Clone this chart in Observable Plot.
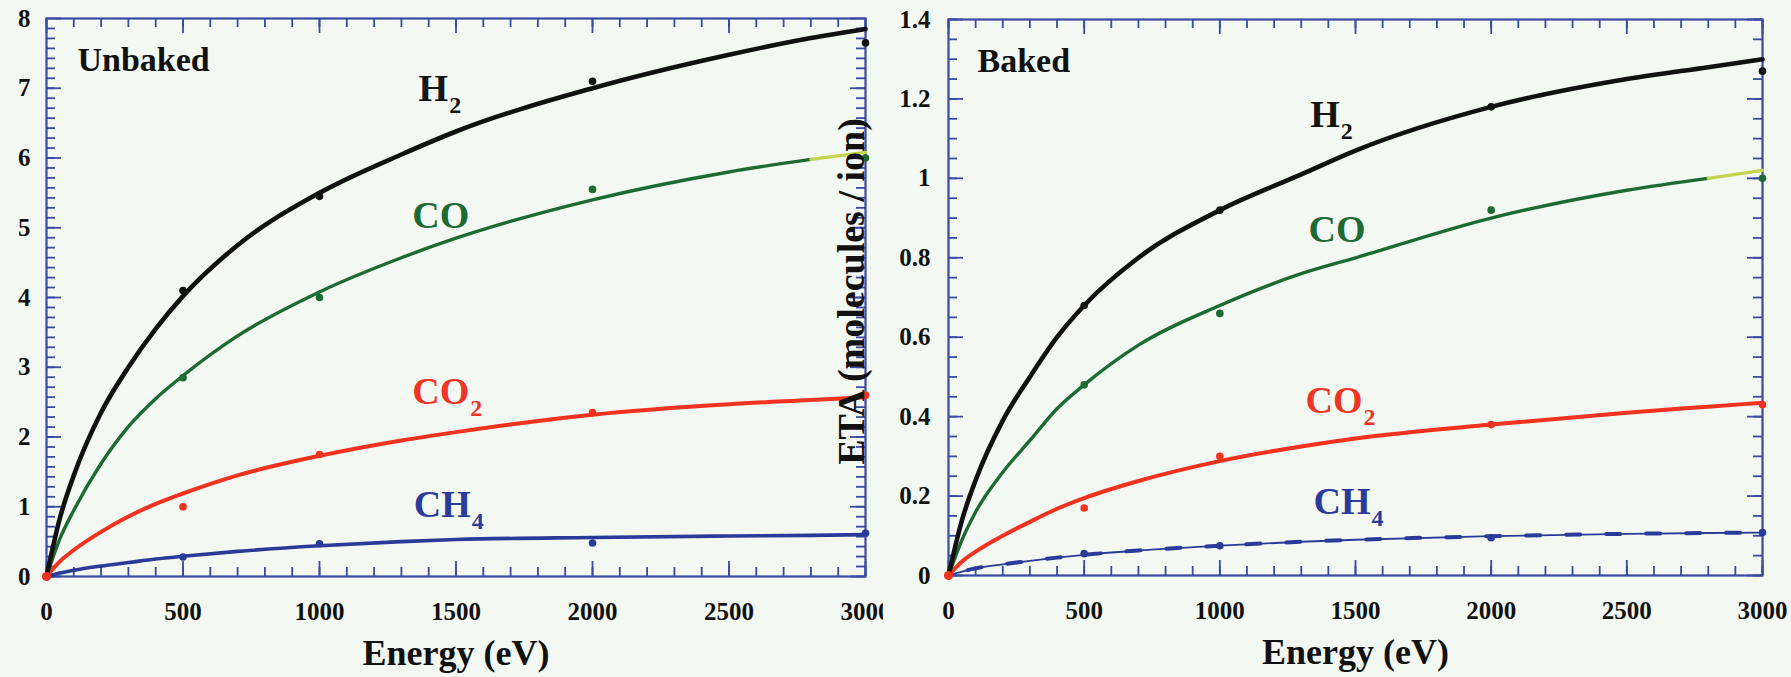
<!DOCTYPE html>
<html><head><meta charset="utf-8">
<script src="https://cdn.jsdelivr.net/npm/d3@7"></script>
<script src="https://cdn.jsdelivr.net/npm/@observablehq/plot@0.6"></script>
<style>
body{margin:0;background:#f3f8f2;}
#wrap{position:relative;width:1791px;height:677px;overflow:hidden;background:#f3f8f2;}
#left,#right{position:absolute;top:0;}
#left{left:0;} #right{left:825px;}
</style></head><body>
<div id="wrap"><div id="left"></div><div id="right"></div></div>
<script>
// ---------- data ----------
const energyGrid = [0, 50, 100, 200, 300, 400, 500, 700, 1000, 1300, 1500, 2000, 2500, 2800, 3000];
const pointEnergy = [0, 500, 1000, 2000, 3000];
const gases = ["H2", "CO", "CO2", "CH4"];
const gasMain = ["H", "CO", "CO", "CH"];
const gasSub = ["2", "", "2", "4"];

// Unbaked (fitted curves + measured points)
const unbakedH2  = [0, 0.85, 1.45, 2.35, 3.0, 3.55, 4.02, 4.75, 5.5, 6.05, 6.38, 7.0, 7.48, 7.72, 7.85];
const unbakedCO  = [0, 0.55, 0.95, 1.62, 2.15, 2.55, 2.88, 3.45, 4.08, 4.57, 4.85, 5.4, 5.8, 5.98, 6.08];
const unbakedCO2 = [0, 0.22, 0.38, 0.64, 0.86, 1.04, 1.19, 1.45, 1.73, 1.95, 2.07, 2.32, 2.47, 2.53, 2.57];
const unbakedCH4 = [0, 0.05, 0.09, 0.15, 0.2, 0.25, 0.29, 0.36, 0.44, 0.5, 0.53, 0.56, 0.58, 0.59, 0.6];
const unbakedPtsH2  = [0, 4.1, 5.45, 7.1, 7.65];
const unbakedPtsCO  = [0, 2.85, 4.0, 5.55, 6.0];
const unbakedPtsCO2 = [0, 1.0, 1.75, 2.35, 2.6];
const unbakedPtsCH4 = [0, 0.28, 0.47, 0.48, 0.62];

// Baked
const bakedH2  = [0, 0.14, 0.24, 0.39, 0.5, 0.6, 0.68, 0.8, 0.92, 1.01, 1.07, 1.18, 1.25, 1.28, 1.30];
const bakedCO  = [0, 0.09, 0.16, 0.26, 0.34, 0.42, 0.48, 0.58, 0.68, 0.76, 0.8, 0.9, 0.97, 1.0, 1.02];
const bakedCO2 = [0, 0.035, 0.06, 0.1, 0.135, 0.168, 0.195, 0.238, 0.288, 0.325, 0.345, 0.38, 0.41, 0.425, 0.435];
const bakedCH4 = [0, 0.01, 0.018, 0.028, 0.037, 0.045, 0.052, 0.063, 0.075, 0.085, 0.09, 0.099, 0.105, 0.107, 0.108];
const bakedPtsH2  = [0, 0.68, 0.92, 1.18, 1.27];
const bakedPtsCO  = [0, 0.48, 0.66, 0.92, 1.0];
const bakedPtsCO2 = [0, 0.17, 0.3, 0.38, 0.43];
const bakedPtsCH4 = [0, 0.055, 0.075, 0.095, 0.108];

// label anchors (energy, value)
const unbakedLabelE = [1363, 1340, 1340, 1345];
const unbakedLabelV = [6.82, 5.0, 2.47, 0.86];
const bakedLabelE = [1333, 1327, 1316, 1345];
const bakedLabelV = [1.13, 0.84, 0.41, 0.156];

// ticks
const xMajorTicks = [0, 500, 1000, 1500, 2000, 2500, 3000];
const xMinorTicks = d3.range(0, 3001, 100);
const unbakedYMajor = [0, 1, 2, 3, 4, 5, 6, 7, 8];
const unbakedYMinor = d3.range(0, 56).map(i => i / 7);
const bakedYMajor = [0, 0.2, 0.4, 0.6, 0.8, 1, 1.2, 1.4];
const bakedYMinor = d3.range(0, 29).map(i => i * 0.05);

// ---------- style ----------
const FONT = "'Liberation Serif', 'Times New Roman', serif";
const frameBlue = "#3a4aa2";
const lineColors = ["#111111", "#1d6a33", "#f0321f", "#2a3a98"];
const lineWidths = [4.6, 3.4, 4.0, 3.6];
const textColors = ["#151515", "#1d6a33", "#ee3526", "#2b3b9a"];
const coEndColor = "#c3d44c";

const ctx = document.createElement("canvas").getContext("2d");
function textWidth(t, size) { ctx.font = `bold ${size}px ${FONT}`; return ctx.measureText(t).width; }
const rowsOf = (vals, es) => es.map((E, i) => ({E, v: vals[i]}));

function buildPanel(o) {
  const iw = o.width - o.marginLeft - o.marginRight;
  const ih = o.height - o.marginTop - o.marginBottom;
  const tk = {stroke: frameBlue, strokeWidth: 1.8};
  const marks = [];
  // inward ticks on all four sides
  marks.push(Plot.tickX(xMinorTicks, {x: d => d, insetTop: ih - 9, ...tk}));
  marks.push(Plot.tickX(xMajorTicks, {x: d => d, insetTop: ih - 15, ...tk}));
  marks.push(Plot.tickX(xMinorTicks, {x: d => d, insetBottom: ih - 9, ...tk}));
  marks.push(Plot.tickX(xMajorTicks, {x: d => d, insetBottom: ih - 15, ...tk}));
  marks.push(Plot.tickY(o.yMinor, {y: d => d, insetRight: iw - 9, ...tk}));
  marks.push(Plot.tickY(o.yMajor, {y: d => d, insetRight: iw - 15, ...tk}));
  marks.push(Plot.tickY(o.yMinor, {y: d => d, insetLeft: iw - 9, ...tk}));
  marks.push(Plot.tickY(o.yMajor, {y: d => d, insetLeft: iw - 15, ...tk}));
  marks.push(Plot.frame({stroke: frameBlue, strokeWidth: 2.2}));
  // tick labels
  marks.push(Plot.axisX({ticks: xMajorTicks, tickSize: 0, tickPadding: 26, label: null, fontSize: 25, fill: "#111", tickFormat: d => String(d)}));
  marks.push(Plot.axisY({ticks: o.yMajor, tickSize: 0, tickPadding: o.yPad, label: null, fontSize: 25, fill: "#111", tickFormat: d => String(+d.toFixed(1))}));
  // curves
  const order = [3, 2, 1, 0];
  for (const i of order) {
    const rows = rowsOf(o.curves[i], energyGrid);
    if (i === 3 && o.dashedCH4) {
      marks.push(Plot.line(rows, {x: "E", y: "v", curve: "monotone-x", stroke: lineColors[i], strokeWidth: 1.8}));
      marks.push(Plot.line(rows, {x: "E", y: "v", curve: "monotone-x", stroke: lineColors[i], strokeWidth: 4, strokeDasharray: "14,26", strokeDashoffset: -20}));
    } else if (i === 1) {
      marks.push(Plot.line(rows.filter(d => d.E <= 2800), {x: "E", y: "v", curve: "monotone-x", stroke: lineColors[i], strokeWidth: lineWidths[i]}));
      marks.push(Plot.line(rows.filter(d => d.E >= 2800), {x: "E", y: "v", curve: "monotone-x", stroke: coEndColor, strokeWidth: lineWidths[i]}));
    } else {
      marks.push(Plot.line(rows, {x: "E", y: "v", curve: "monotone-x", stroke: lineColors[i], strokeWidth: lineWidths[i]}));
    }
    marks.push(Plot.dot(rowsOf(o.points[i], pointEnergy), {x: "E", y: "v", r: 3.8, fill: lineColors[i], stroke: "none"}));
  }
  // red origin dot on top
  marks.push(Plot.dot([{E: 0, v: 0}], {x: "E", y: "v", r: 4.5, fill: lineColors[2]}));
  // series labels with subscripts
  gases.forEach((g, i) => {
    const row = [{E: o.labelE[i], v: o.labelV[i]}];
    marks.push(Plot.text(row, {x: "E", y: "v", text: () => gasMain[i], fill: textColors[i], fontSize: 38, textAnchor: "start", lineAnchor: "bottom"}));
    if (gasSub[i]) {
      marks.push(Plot.text(row, {x: "E", y: "v", text: () => gasSub[i], fill: textColors[i], fontSize: 24, textAnchor: "start", lineAnchor: "bottom", dx: textWidth(gasMain[i], 38) + 1, dy: 12}));
    }
  });
  // panel title
  marks.push(Plot.text([o.title], {frameAnchor: "top-left", text: d => d, dx: o.titleDx, dy: 52, fontSize: 34, textAnchor: "start", lineAnchor: "bottom", fill: "#111"}));
  // x axis title
  marks.push(Plot.text(["Energy (eV)"], {frameAnchor: "bottom", text: d => d, dy: 88, fontSize: 36, textAnchor: "middle", lineAnchor: "bottom", fill: "#111"}));
  if (o.yTitle) {
    marks.push(Plot.text([o.yTitle], {frameAnchor: "left", text: d => d, rotate: -90, dx: o.yTitleDx, dy: -6, fontSize: 38, textAnchor: "middle", lineAnchor: "middle", fill: "#111"}));
  }
  return Plot.plot({
    width: o.width, height: o.height,
    marginLeft: o.marginLeft, marginRight: o.marginRight, marginTop: o.marginTop, marginBottom: o.marginBottom,
    x: {domain: [0, 3000]},
    y: {domain: o.yDomain},
    style: {background: "transparent", fontFamily: FONT, fontWeight: "bold", overflow: o.overflow},
    marks
  });
}

document.getElementById("left").append(buildPanel({
  width: 883, height: 677, marginLeft: 46, marginRight: 18, marginTop: 18, marginBottom: 101,
  yDomain: [0, 8], yMajor: unbakedYMajor, yMinor: unbakedYMinor, yPad: 16,
  curves: [unbakedH2, unbakedCO, unbakedCO2, unbakedCH4],
  points: [unbakedPtsH2, unbakedPtsCO, unbakedPtsCO2, unbakedPtsCH4],
  labelE: unbakedLabelE, labelV: unbakedLabelV,
  title: "Unbaked", titleDx: 31, overflow: "hidden", dashedCH4: false
}));
document.getElementById("right").append(buildPanel({
  width: 966, height: 677, marginLeft: 123, marginRight: 29, marginTop: 19, marginBottom: 102,
  yDomain: [0, 1.4], yMajor: bakedYMajor, yMinor: bakedYMinor, yPad: 18,
  curves: [bakedH2, bakedCO, bakedCO2, bakedCH4],
  points: [bakedPtsH2, bakedPtsCO, bakedPtsCO2, bakedPtsCH4],
  labelE: bakedLabelE, labelV: bakedLabelV,
  title: "Baked", titleDx: 29, overflow: "visible", dashedCH4: true,
  yTitle: "ETA (molecules / ion)", yTitleDx: -97
}));
</script>
</body></html>
